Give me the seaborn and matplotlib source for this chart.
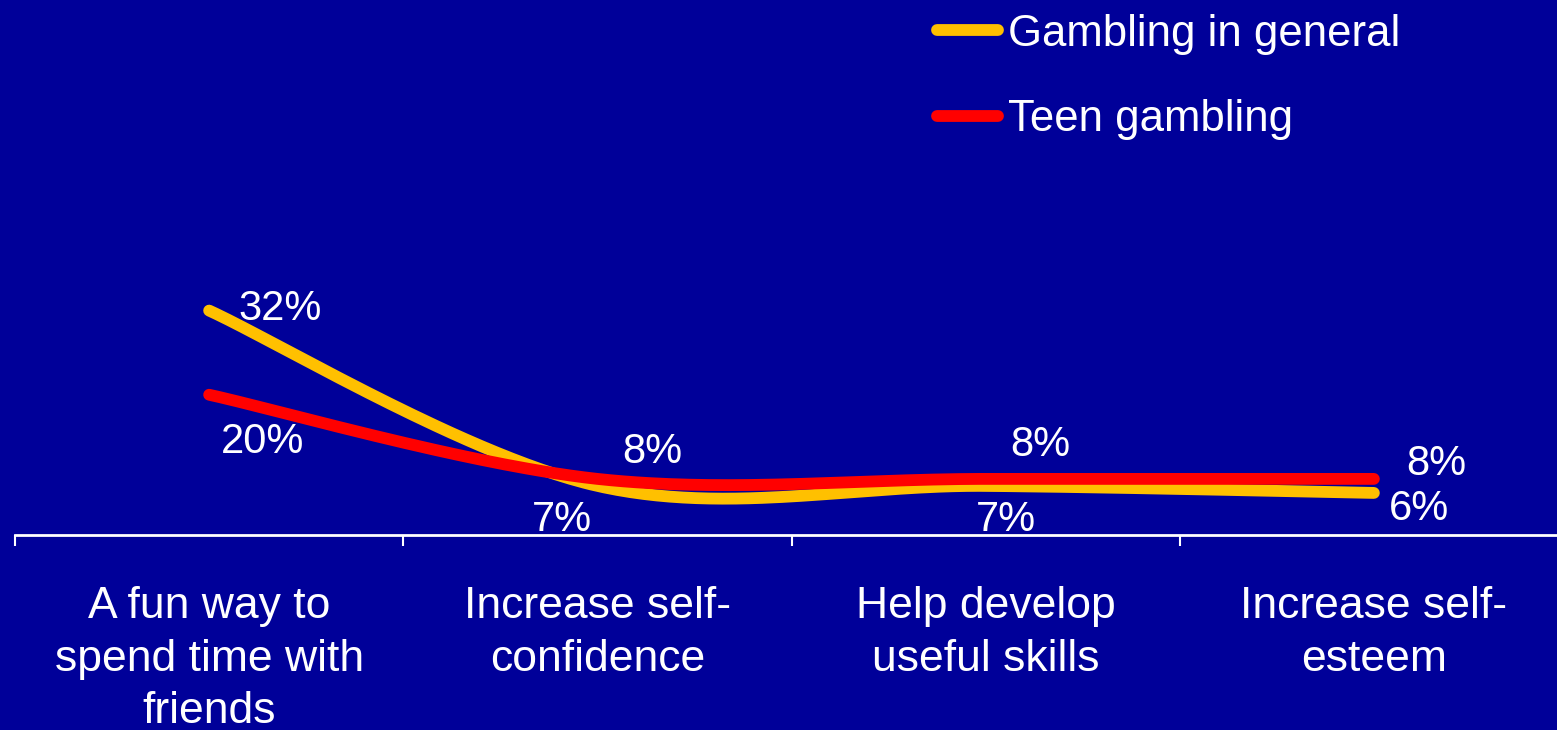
import numpy as np
import pandas as pd
import matplotlib
matplotlib.use("Agg")
import matplotlib.pyplot as plt
import seaborn as sns

categories = ["A fun way to\nspend time with\nfriends", "Increase self-\nconfidence",
              "Help develop\nuseful skills", "Increase self-\nesteem"]
general = [32, 7, 7, 6]
teen = [20, 8, 8, 8]
series_names = ["Gambling in general", "Teen gambling"]

# label offsets in pixels (style only)
general_offsets = [(71, 2), (-35, -34), (20, -34), (45, -16)]
teen_offsets = [(53, -47), (55, 27), (55, 34), (62, 15)]

BG = "#000099"
YELLOW = "#FFC000"
RED = "#FF0000"
FS = 31

sns.set_theme(style="white")
plt.rcParams["font.family"] = ["Liberation Sans", "DejaVu Sans"]


def smooth(values, n=60):
    """Excel-style smoothed line (Catmull-Rom Bezier) through the data points."""
    pts = np.array([[i, v] for i, v in enumerate(values)], dtype=float)
    ext = np.vstack([pts[0], pts, pts[-1]])
    xs, ys = [], []
    t = np.linspace(0, 1, n)[:, None]
    for i in range(len(pts) - 1):
        p0, p1, p2, p3 = ext[i], ext[i + 1], ext[i + 2], ext[i + 3]
        c1 = p1 + (p2 - p0) / 6
        c2 = p2 - (p3 - p1) / 6
        b = ((1 - t) ** 3) * p1 + 3 * ((1 - t) ** 2) * t * c1 + 3 * (1 - t) * t ** 2 * c2 + t ** 3 * p2
        xs.extend(b[:, 0]); ys.extend(b[:, 1])
    return np.array(xs), np.array(ys)


fig = plt.figure(figsize=(15.57, 7.30), dpi=100, facecolor=BG)
ax = fig.add_axes([15 / 1557, 1 - 535 / 730, 1553 / 1557, 535 / 730])
ax.set_facecolor(BG)

for vals, name, color in [(general, series_names[0], YELLOW), (teen, series_names[1], RED)]:
    sx, sy = smooth(vals)
    df = pd.DataFrame({"x": sx, "y": sy})
    sns.lineplot(data=df, x="x", y="y", sort=False, ax=ax, color=color,
                 linewidth=8.5, solid_capstyle="round", label=name)

for vals, offs in [(general, general_offsets), (teen, teen_offsets)]:
    for i, (v, o) in enumerate(zip(vals, offs)):
        ax.annotate(f"{v}%", (i, v), xytext=o, textcoords="offset pixels",
                    ha="center", va="center", color="white", fontsize=FS - 1)

ax.set_xlim(-0.5, 3.5)
ax.set_ylim(0, 534 / 7)
ax.set_xticks([-0.5, 0.5, 1.5, 2.5, 3.5])
ax.set_xticklabels([])
ax.set_xticks(range(4), minor=True)
ax.set_xticklabels(categories, minor=True, color="white", fontsize=FS + 1, linespacing=1.36)
ax.tick_params(axis="x", which="major", direction="out", length=8, width=1.5, color="white", bottom=True)
ax.tick_params(axis="x", which="minor", length=0, pad=37)
ax.set_yticks([])
ax.set_xlabel("")
ax.set_ylabel("")
for s in ["top", "right", "left"]:
    ax.spines[s].set_visible(False)
ax.spines["bottom"].set_color("white")
ax.spines["bottom"].set_linewidth(2)

leg = ax.legend(loc="upper left", bbox_to_anchor=(917 / 1557, 1 + 6 / 730), bbox_transform=fig.transFigure,
                frameon=False, fontsize=FS + 0.5, handlelength=1.4, handletextpad=0.22,
                labelspacing=1.02, borderaxespad=0.05)
for txt in leg.get_texts():
    txt.set_color("white")
for line in leg.get_lines():
    line.set_linewidth(8.5)
    line.set_solid_capstyle("round")

fig.savefig("out.png", dpi=100, facecolor=BG)
